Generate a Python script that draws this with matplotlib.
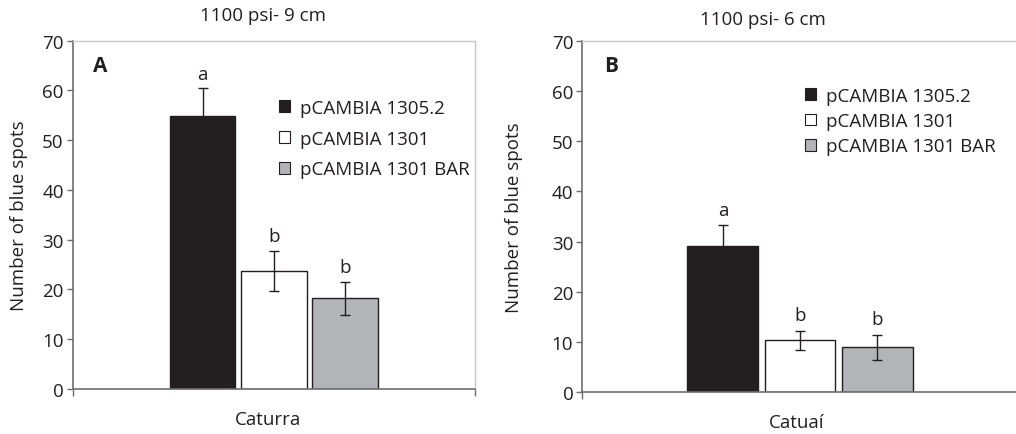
import matplotlib
matplotlib.use("Agg")
import matplotlib.pyplot as plt
from matplotlib.patches import Patch
import numpy as np

plt.rcParams['font.family'] = ['Open Sans', 'DejaVu Sans']

series = ["pCAMBIA 1305.2", "pCAMBIA 1301", "pCAMBIA 1301 BAR"]
colors = ["#231f20", "#ffffff", "#b3b4b7"]

cultivar_A = "Caturra"
values_A = [54.8, 23.7, 18.2]
errors_A = [5.6, 4.0, 3.4]
letters_A = ["a", "b", "b"]
title_A = "1100 psi- 9 cm"

cultivar_B = "Catuaí"
values_B = [29.1, 10.4, 9.0]
errors_B = [4.2, 1.9, 2.5]
letters_B = ["a", "b", "b"]
title_B = "1100 psi- 6 cm"

yticks = [0, 10, 20, 30, 40, 50, 60, 70]

W, H = 1016, 435
fig = plt.figure(figsize=(W / 100, H / 100), dpi=100)

def px_axes(l, r, b, t):
    return fig.add_axes([l / W, 1 - b / H, (r - l) / W, (b - t) / H])

axA = px_axes(72.7, 475.0, 390.0, 41.7)
axB = px_axes(582.3, 1017.7, 393.3, 41.7)

FS = 13.5

def draw(ax, vals, errs, letters, title, cat, panel, leg_xy, leg_spacing,
         title_x, title_y, xlab_x, ylab_pad):
    offsets = np.array([-0.177, 0.0, 0.177])
    x = 0.0 + offsets
    ax.bar(x, vals, width=0.163, color=colors, edgecolor="#231f20",
           linewidth=1.0, zorder=2)
    ax.errorbar(x, vals, yerr=errs, fmt="none", ecolor="#231f20",
                elinewidth=1.0, capsize=3.5, capthick=1.0, zorder=3)
    for xi, v, e, L in zip(x, vals, errs, letters):
        ax.text(xi, v + e + 3.0, L, ha="center", va="center", fontsize=FS,
                color="#231f20")
    ax.set_xlim(-0.5, 0.5)
    ax.set_ylim(0, 70)
    ax.set_yticks(yticks)
    ax.set_xticks([-0.5, 0.5])
    ax.set_xticklabels(["", ""])
    ax.tick_params(axis="y", direction="out", length=4.5, width=1.0,
                   color="#6d6e71", labelsize=FS, labelcolor="#231f20", pad=2)
    ax.tick_params(axis="x", direction="out", length=5, width=1.0,
                   color="#6d6e71")
    for s in ["left", "bottom"]:
        ax.spines[s].set_color("#6d6e71")
        ax.spines[s].set_linewidth(1.2)
    for s in ["top", "right"]:
        ax.spines[s].set_color("#c8c9cb")
        ax.spines[s].set_linewidth(1.0)
    ax.set_ylabel("Number of blue spots", fontsize=FS, color="#231f20",
                  labelpad=ylab_pad)
    ax.set_xlabel(cat, fontsize=FS, color="#231f20", labelpad=10)
    ax.xaxis.set_label_coords(xlab_x, -0.085)
    ax.xaxis.label.set_va("center")
    fig.text(title_x / W, 1 - title_y / H, title, fontsize=FS, color="#231f20",
             ha="center", va="center")
    ax.text(0.05, 0.93, panel, transform=ax.transAxes, fontsize=15,
            fontweight="bold", ha="left", va="center", color="#231f20")
    handles = [Patch(facecolor=c, edgecolor="#231f20", linewidth=0.8) for c in colors]
    ax.legend(handles, series, loc="upper left",
              bbox_to_anchor=(leg_xy[0] / W, 1 - leg_xy[1] / H),
              bbox_transform=fig.transFigure, frameon=False, fontsize=FS,
              handlelength=0.6, handleheight=0.6, handletextpad=0.5,
              labelspacing=leg_spacing, borderpad=0, borderaxespad=0,
              labelcolor="#231f20")

draw(axA, values_A, errors_A, letters_A, title_A, cultivar_A, "A", (279, 100), 0.68,
     263, 16, 0.4855, 10)
draw(axB, values_B, errors_B, letters_B, title_B, cultivar_B, "B", (805, 88), 0.38,
     763, 20, 0.493, 21)

fig.savefig("out.png", dpi=100)
